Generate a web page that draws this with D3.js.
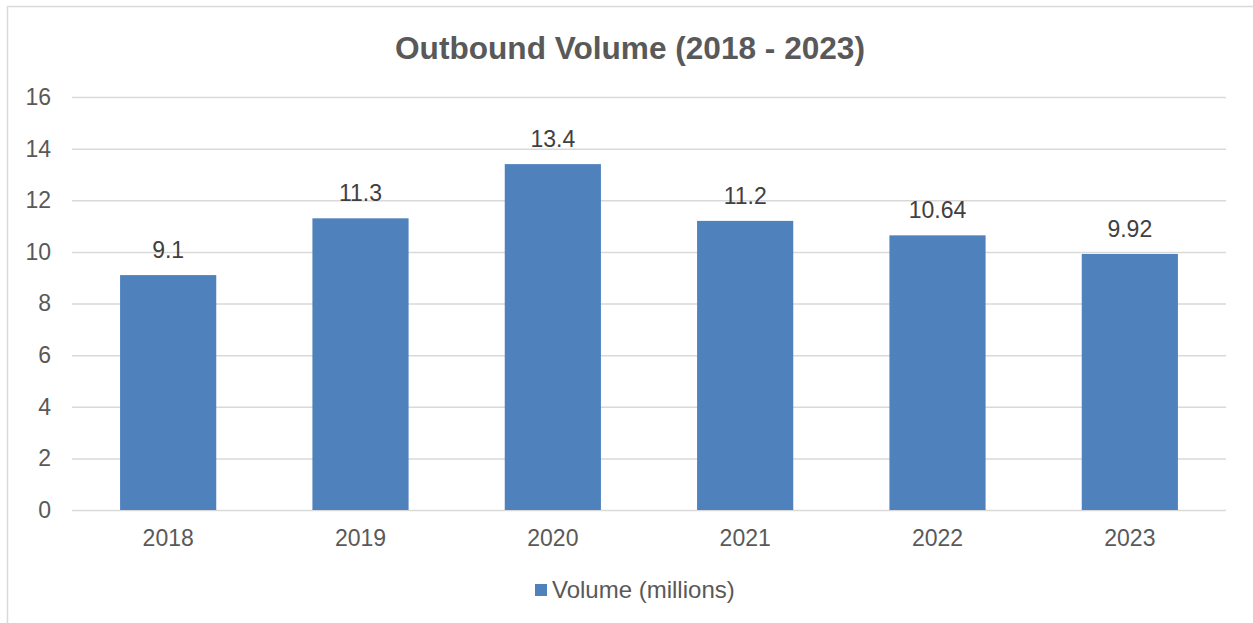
<!DOCTYPE html>
<html>
<head>
<meta charset="utf-8">
<script src="https://cdn.jsdelivr.net/npm/d3@7/dist/d3.min.js"></script>
<style>
  html, body { margin: 0; padding: 0; background: #fff; }
  svg { display: block; font-family: "Liberation Sans", Arial, sans-serif; }
</style>
</head>
<body>
<svg id="chart" width="1253" height="623"></svg>
<script>
// Chart data
const years = ["2018", "2019", "2020", "2021", "2022", "2023"];
const volumes = [9.1, 11.3, 13.4, 11.2, 10.64, 9.92];
const valueLabels = ["9.1", "11.3", "13.4", "11.2", "10.64", "9.92"];
const yTicks = [0, 2, 4, 6, 8, 10, 12, 14, 16];
const chartTitle = "Outbound Volume (2018 - 2023)";
const seriesName = "Volume (millions)";

const W = 1253, H = 623;
const plot = { left: 72, right: 1226, top: 97, bottom: 510 };
const textColor = "#595959";
const gridColor = "#D9D9D9";
const barColor = "#4F81BD";
const labelSize = 23;

const svg = d3.select("#chart");

// Chart frame
svg.append("rect")
  .attr("x", 7.5).attr("y", 6.5)
  .attr("width", W + 10).attr("height", H + 10)
  .attr("fill", "#fff")
  .attr("stroke", gridColor).attr("stroke-width", 1.5);

const x = d3.scaleBand()
  .domain(years)
  .range([plot.left, plot.right])
  .paddingInner(0.5).paddingOuter(0.25);

const y = d3.scaleLinear()
  .domain([0, 16])
  .range([plot.bottom, plot.top]);

// Horizontal gridlines and y tick labels
const yAxis = d3.axisLeft(y)
  .tickValues(yTicks)
  .tickSize(-(plot.right - plot.left))
  .tickPadding(21)
  .tickFormat(d3.format("d"));

const gy = svg.append("g")
  .attr("transform", `translate(${plot.left},0)`)
  .call(yAxis);
gy.select(".domain").remove();
gy.selectAll(".tick line").attr("stroke", gridColor).attr("stroke-width", 1.5);
gy.selectAll(".tick text")
  .attr("fill", textColor)
  .attr("font-size", labelSize);

// Bars
svg.append("g").selectAll("rect")
  .data(volumes)
  .join("rect")
  .attr("x", (d, i) => x(years[i]))
  .attr("y", d => y(d))
  .attr("width", x.bandwidth())
  .attr("height", d => y(0) - y(d))
  .attr("fill", barColor);

// Value labels
svg.append("g").selectAll("text")
  .data(volumes)
  .join("text")
  .attr("x", (d, i) => x(years[i]) + x.bandwidth() / 2)
  .attr("y", d => y(d) - 17)
  .attr("text-anchor", "middle")
  .attr("fill", "#404040")
  .attr("font-size", labelSize)
  .text((d, i) => valueLabels[i]);

// X axis labels
const xAxis = d3.axisBottom(x).tickSize(0).tickPadding(20);
const gx = svg.append("g")
  .attr("transform", `translate(0,${plot.bottom})`)
  .call(xAxis);
gx.select(".domain").remove();
gx.selectAll(".tick text")
  .attr("fill", textColor)
  .attr("font-size", labelSize);

// Title
svg.append("text")
  .attr("x", 630).attr("y", 59)
  .attr("text-anchor", "middle")
  .attr("fill", textColor)
  .attr("font-size", 31.6)
  .attr("font-weight", "bold")
  .text(chartTitle);

// Legend
const legend = svg.append("g").attr("transform", "translate(535,584)");
legend.append("rect")
  .attr("width", 12).attr("height", 12)
  .attr("fill", barColor);
legend.append("text")
  .attr("x", 17).attr("y", 14)
  .attr("fill", textColor)
  .attr("font-size", 24)
  .text(seriesName);
</script>
</body>
</html>
